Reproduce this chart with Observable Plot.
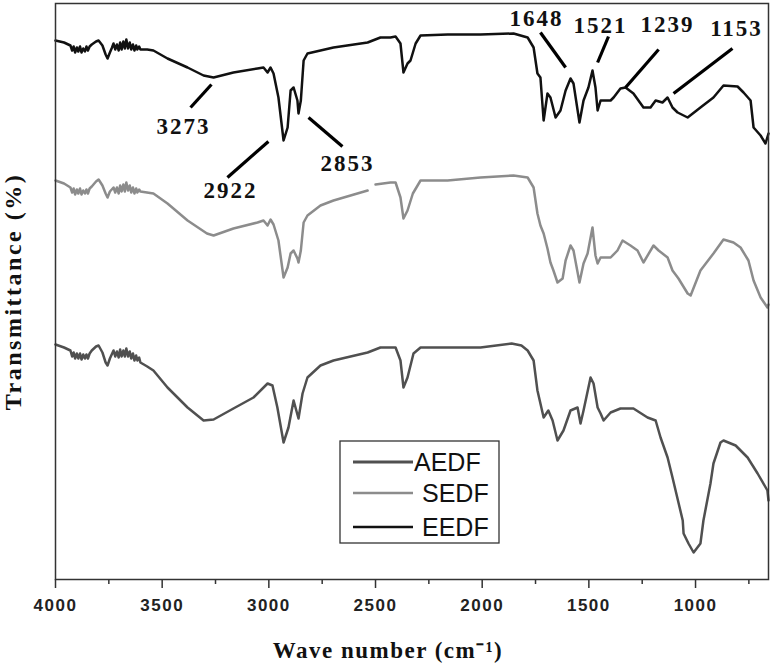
<!DOCTYPE html>
<html>
<head>
<meta charset="utf-8">
<script src="https://cdn.jsdelivr.net/npm/d3@7"></script>
<script src="https://cdn.jsdelivr.net/npm/@observablehq/plot@0.6"></script>
<style>
  html, body { margin: 0; padding: 0; background: #fff; }
  #chart svg { display: block; }
</style>
</head>
<body>
<div id="chart"></div>
<script>
// ---- data (wavenumber in cm-1, transmittance in arbitrary offset units) ----
const seriesNames = ["AEDF", "SEDF", "EEDF"];

const eedfWave = [4000,3960,3930,3922,3915,3908,3900,3893,3885,3878,3870,3862,3855,3848,3840,3830,3810,3798,3780,3765,3756,3745,3735,3728,3720,3712,3704,3697,3690,3682,3675,3668,3660,3652,3645,3637,3630,3622,3616,3608,3602,3570,3541,3475,3381,3306,3259,3166,3053,3025,3006,2992,2978,2955,2931,2912,2898,2884,2866,2861,2850,2837,2819,2758,2697,2537,2477,2430,2406,2383,2369,2350,2336,2312,2289,2162,2008,1853,1787,1759,1741,1727,1712,1694,1680,1656,1633,1609,1586,1572,1544,1525,1502,1483,1469,1459,1445,1398,1384,1352,1328,1291,1244,1211,1187,1155,1131,1108,1084,1037,977,916,869,803,775,742,728,695,672,658];
const eedfT = [539,537,534,529,533,527,532,528,533,527,531,528,533,529,533,535,538,539,534,525,521,527,532,536,530,535,529,537,530,538,531,540,531,537,530,535,529,534,530,533,530,530,529,521,512,504,502,507,511,512,507,512,506,482,439,452,489,492,479,466,479,519,526,529,532,537,542,542,543,536,507,516,519,536,544,545,545,546,542,532,506,502,459,486,482,462,469,489,501,496,457,479,492,509,492,469,479,479,482,491,492,486,472,472,479,477,482,472,467,462,472,482,494,493,487,479,452,444,436,446];

const sedfWave = [4000,3960,3930,3922,3915,3908,3900,3893,3885,3878,3870,3862,3855,3848,3840,3830,3810,3798,3780,3765,3756,3745,3728,3720,3712,3704,3697,3690,3682,3675,3668,3660,3652,3645,3637,3630,3622,3616,3608,3602,3541,3475,3381,3290,3259,3166,3053,3025,3006,2992,2978,2955,2931,2912,2898,2884,2866,2861,2850,2837,2819,2758,2697,2537,2520,2500,2430,2406,2383,2369,2350,2325,2289,2162,2008,1853,1787,1759,1741,1727,1712,1694,1680,1666,1647,1623,1609,1586,1572,1544,1525,1506,1483,1469,1459,1445,1398,1366,1342,1305,1272,1244,1197,1173,1131,1108,1080,1037,1023,977,916,869,822,789,752,728,695,663,658];
const sedfT = [399,396,392,387,391,385,390,386,391,385,389,386,390,386,391,393,398,400,394,386,382,388,392,387,392,386,394,388,395,388,397,389,394,387,392,386,391,387,390,388,386,376,359,346,344,351,357,359,354,360,355,339,302,312,326,329,321,317,329,357,364,374,379,389,null,395,397,397,382,361,369,386,399,399,402,404,402,392,366,354,346,331,317,309,297,301,319,334,329,297,316,326,352,324,316,322,322,329,339,334,329,317,334,329,322,309,301,286,284,309,326,340,337,332,319,299,282,272,275];

const aedfWave = [4000,3960,3930,3922,3915,3908,3900,3893,3885,3878,3870,3862,3855,3848,3840,3830,3810,3798,3780,3765,3756,3745,3728,3720,3712,3704,3697,3690,3682,3675,3668,3660,3652,3645,3637,3630,3622,3616,3608,3602,3570,3541,3475,3381,3306,3259,3166,3072,3006,2983,2960,2931,2908,2884,2861,2842,2819,2758,2697,2537,2477,2406,2383,2369,2350,2322,2289,2162,2008,1862,1816,1787,1759,1741,1712,1690,1670,1647,1619,1586,1553,1539,1525,1492,1478,1459,1445,1431,1398,1352,1291,1225,1187,1164,1131,1108,1060,1056,1033,1009,977,963,930,916,883,869,812,756,709,663,658];
const aedfT = [235,232,229,223,227,221,226,221,226,220,225,221,225,221,226,229,233,234,227,217,214,221,229,223,228,222,230,223,229,223,231,223,228,221,226,219,224,219,222,217,213,209,192,172,159,160,171,182,196,194,172,137,152,179,161,186,202,214,219,227,232,232,219,192,202,226,232,232,232,236,234,229,219,189,162,169,159,139,149,169,172,156,169,202,196,172,166,159,167,171,171,162,159,142,122,102,59,46,36,27,36,59,96,116,137,139,134,122,106,89,79];

// peak annotations
const peakLabels = ["3273", "2922", "2853", "1648", "1521", "1239", "1153"];
const peakLabelWave = [3400, 3180, 2631, 1745, 1445, 1131, 808];
const peakLabelT = [453, 389, 416, 561, 554, 555, 551];
const leaderWave1 = [3367, 3194, 2814, 1727, 1408, 1173, 827];
const leaderT1 = [472, 402, 462, 547, 543, 530, 531];
const leaderWave2 = [3269, 3002, 2655, 1609, 1459, 1328, 1103];
const leaderT2 = [495, 438, 433, 512, 517, 492, 486];

const majorTicks = [4000, 3500, 3000, 2500, 2000, 1500, 1000];
const minorTicks = [3750, 3250, 2750, 2250, 1750, 1250, 750];

const xTitle = "Wave number (cm\u207B\u00B9)";
const yTitle = "Transmittance (%)";

// ---- build tables ----
const colors = { AEDF: "#505050", SEDF: "#8c8c8c", EEDF: "#111111" };
const waves = { AEDF: aedfWave, SEDF: sedfWave, EEDF: eedfWave };
const vals = { AEDF: aedfT, SEDF: sedfT, EEDF: eedfT };
const rows = seriesNames.flatMap(s => waves[s].map((w, i) => ({ series: s, wave: w, t: vals[s][i] })));
const peaks = peakLabels.map((label, i) => ({
  label, x: peakLabelWave[i], y: peakLabelT[i],
  x1: leaderWave1[i], y1: leaderT1[i], x2: leaderWave2[i], y2: leaderT2[i]
}));

const serif = "'Liberation Serif', 'Times New Roman', serif";
const sans = "'Liberation Sans', Arial, sans-serif";

function legendMark(index, scales, values, dimensions) {
  const ml = dimensions ? dimensions.marginLeft : 55;
  const mt = dimensions ? dimensions.marginTop : 3;
  const g = d3.create("svg:g");
  const bx = ml + 285, by = mt + 438, bw = 159, bh = 102;
  g.append("rect").attr("x", bx).attr("y", by).attr("width", bw).attr("height", bh)
    .attr("fill", "white").attr("stroke", "#333").attr("stroke-width", 1.3);
  const entryY = [21, 52, 86];
  const textX = [74, 82, 82];
  seriesNames.forEach((s, i) => {
    g.append("line").attr("x1", bx + 13).attr("x2", bx + 73)
      .attr("y1", by + entryY[i]).attr("y2", by + entryY[i])
      .attr("stroke", colors[s]).attr("stroke-width", s === "AEDF" ? 3 : 2.6);
    g.append("text").attr("x", bx + textX[i]).attr("y", by + entryY[i] + 9)
      .attr("text-anchor", "start")
      .attr("font-family", sans).attr("font-size", 25).attr("fill", "#111").text(s);
  });
  return g.node();
}

const chart = Plot.plot({
  width: 774,
  height: 671,
  marginLeft: 55,
  marginRight: 6,
  marginTop: 3,
  marginBottom: 92,
  x: { domain: [4000, 658], axis: null },
  y: { domain: [0, 576], axis: null },
  style: { background: "white", color: "#222" },
  marks: [
    Plot.line(rows, {
      x: "wave", y: "t", z: "series",
      stroke: d => colors[d.series], strokeWidth: 2.5, strokeLinejoin: "round"
    }),
    Plot.frame({ stroke: "#333", strokeWidth: 1.5 }),
    Plot.axisX({ ticks: minorTicks, tickSize: 5, text: null, stroke: "#333", strokeWidth: 1.5 }),
    Plot.axisX({
      ticks: majorTicks, tickSize: 9, tickPadding: 10, tickFormat: d => String(d),
      fontSize: 17, fontWeight: "bold", fontFamily: sans, stroke: "#333", strokeWidth: 1.5,
      fill: "#222", label: null
    }),
    Plot.link(peaks, {
      x1: "x1", y1: "y1", x2: "x2", y2: "y2",
      stroke: "#000", strokeWidth: 3.2
    }),
    Plot.text(peaks, {
      x: "x", y: "y", text: "label",
      fontFamily: serif, fontWeight: "bold", fontSize: 23, fill: "#111"
    }),
    legendMark,
    Plot.text([yTitle], {
      frameAnchor: "left", textAnchor: "middle", rotate: -90, dx: -42,
      fontFamily: serif, fontWeight: "bold", fontSize: 24, fill: "#111"
    }),
    Plot.text([xTitle], {
      frameAnchor: "bottom", textAnchor: "middle", dy: 78, dx: -24,
      fontFamily: serif, fontWeight: "bold", fontSize: 23, fill: "#111"
    })
  ]
});

const tickText = majorTicks.map(String);
d3.select(chart).selectAll("text").each(function () {
  const t = this.textContent;
  let ls = null;
  if (peakLabels.includes(t)) ls = "2px";
  else if (tickText.includes(t)) ls = "1.5px";
  else if (t === yTitle) ls = "2.5px";
  else if (t === xTitle) ls = "1.5px";
  if (ls) d3.select(this).style("letter-spacing", ls);
});

document.getElementById("chart").appendChild(chart);
</script>
</body>
</html>
